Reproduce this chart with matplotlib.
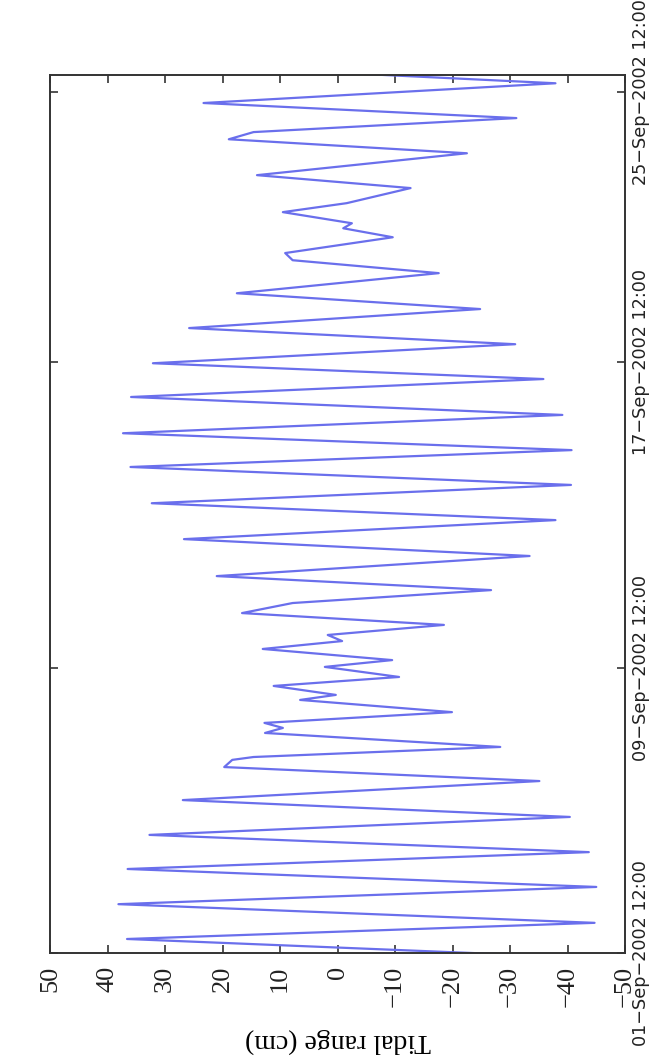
import matplotlib
matplotlib.use("Agg")
import matplotlib.pyplot as plt

# tidal record: time in days after 01-Sep-2002 12:00, range in cm
time_days = [-0.05, 0.39, 0.84, 1.36, 1.84, 2.34, 2.81, 3.29, 3.79, 4.26,
             4.79, 5.18, 5.38, 5.46, 5.74, 6.13, 6.27, 6.41, 6.71, 7.05,
             7.19, 7.44, 7.69, 7.97, 8.16, 8.47, 8.69, 8.86, 9.14, 9.47,
             9.75, 10.11, 10.50, 11.06, 11.53, 12.06, 12.53, 13.04, 13.54, 14.01,
             14.48, 14.99, 15.49, 15.99, 16.43, 16.96, 17.41, 17.94, 18.38, 18.94,
             19.30, 19.50, 19.94, 20.19, 20.33, 20.64, 20.89, 21.31, 21.67, 22.28,
             22.67, 22.87, 23.26, 23.68, 24.23, 24.50]
range_cm = [-31.0, 36.6, -44.7, 38.1, -45.0, 36.5, -43.7, 32.7, -40.4, 26.9,
            -35.1, 19.7, 18.3, 14.6, -28.3, 12.6, 9.5, 12.7, -19.9, 6.5,
            0.3, 11.1, -10.7, 2.2, -9.5, 13.0, -0.8, 1.7, -18.5, 16.6,
            7.8, -26.7, 21.0, -33.4, 26.7, -37.9, 32.3, -40.6, 36.0, -40.7,
            37.3, -39.1, 35.9, -35.8, 32.1, -30.9, 25.8, -24.8, 17.5, -17.6,
            7.8, 9.1, -9.6, -1.0, -2.5, 9.5, -1.6, -12.7, 14.0, -22.5,
            18.9, 14.6, -31.1, 23.3, -37.9, -3.0]

date_ticks = [0.0, 7.94, 16.46, 23.98]
date_labels = ["01\u2212Sep\u22122002 12:00", "09\u2212Sep\u22122002 12:00",
               "17\u2212Sep\u22122002 12:00", "25\u2212Sep\u22122002 12:00"]
range_ticks = [50, 40, 30, 20, 10, 0, -10, -20, -30, -40, -50]

fig = plt.figure(figsize=(6.64, 10.61), dpi=100)
ax = fig.add_axes([0.0753, 0.1018, 0.866, 0.8275])

# figure is laid out turned on its side: range across, time upward
ax.plot(range_cm, time_days, color="#6a6fec", linewidth=1.6,
        solid_joinstyle="round")

ax.set_xlim(50, -50)
ax.set_ylim(0, 24.46)

ax.set_xticks(range_ticks)
ax.set_xticklabels([str(v).replace("-", "\u2212") for v in range_ticks],
                   rotation=90, family="Liberation Serif", fontsize=19)
ax.set_yticks(date_ticks)
ax.set_yticklabels(date_labels, rotation=90, va="center",
                   family="DejaVu Sans", fontsize=12.7)

ax.tick_params(direction="in", length=6, width=1.1, top=True, right=True,
               left=True, labelleft=False, labelright=True, colors="#222222")
ax.tick_params(axis="x", pad=9)
ax.tick_params(axis="y", pad=5)

ax.set_xlabel("Tidal range (cm)", rotation=180, family="Liberation Serif",
              fontsize=20, labelpad=15)

for s in ax.spines.values():
    s.set_linewidth(1.4)
    s.set_color("#333333")

fig.savefig("out.png", dpi=100)
